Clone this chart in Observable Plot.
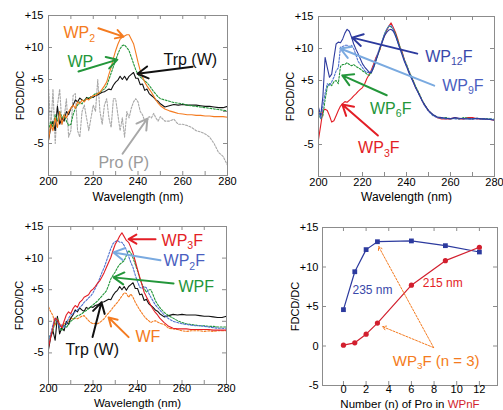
<!DOCTYPE html>
<html><head><meta charset="utf-8">
<script src="https://cdn.jsdelivr.net/npm/d3@7"></script>
<script src="https://cdn.jsdelivr.net/npm/@observablehq/plot@0.6"></script>
<style>
body{margin:0;background:#fff;}
#chart{position:relative;width:503px;height:410px;overflow:hidden;font-family:"Liberation Sans",Arial,sans-serif;}
#chart svg{position:absolute;overflow:visible;}
</style></head><body><div id="chart"></div>
<script>
// ---------- data ----------
const wavelength = [200,201,202,203,204,205,206,207,208,209,210,211,212,213,214,215,216,217,218,219,220,221,222,223,224,225,226,227,228,229,230,231,232,233,234,235,236,237,238,239,240,241,242,243,244,245,246,247,248,249,250,252,254,256,258,260,262,264,266,268,270,272,274,276,278,280];

// panel A
const trp = [-4.5,-2.5,-1.5,-3,0.8,-2,-1,-1.5,0,-0.5, 0.5,1,1.8,1.5,2.1,1.8,1.6,2.2,2,2.3, 2.2,2.5,2.6,2.8,3,3.1,3.3,3.5,3.4,4.1, 4.6,4.9,5.5,5,5.5,4.9,5.5,5.8,6.1,5.2, 5.2,4.2,4.3,3.3,3.5,2.8,2.5,2.2,1.8,1.6, 1.2, 0.7,0.9,1.1,1,1.1,1,1,1,0.9,0.8,0.8,0.7,0.6,0.6,0.8];
const wp2 = [-4.5,-2,-3,-1,-2.5,0,-2,-0.5,-1,0, 0.5,1,0.5,1.5,1.2,1.8,1.5,2,1.8,2.2, 2.5,2.5,2.8,3,3.5,4,4.6,5.8,6.9,8.3, 9.5,10.5,11.3,11.6,11.8,12,12,11.3,10.6,9.2, 7.7,6.4,5.4,4.6,4,3.5,3,2.4,1.8,1.3, 0.9, 0.4,0.1,-0.1,-0.3,-0.4,-0.5,-0.5,-0.6,-0.6,-0.7,-0.7,-0.8,-0.8,-0.8,-0.9];
const wp = [-3,-1.5,-2.5,-0.5,-1.5,0,-1,-0.5,-1.5,-2.2, -2,-0.5,0.5,1,1.5,1.2,1.8,2,2.2,2, 2.5,2.8,2.8,3,3.3,3.5,4,5,6,7, 8,9,9.8,10.3,10.4,10,9.5,8.5,7.5,6.5, 5.8,5.4,5.1,4.8,4.5,4.1,3.6,3.1,2.7,2.3, 2, 1.8,1.6,1.4,1.3,1.2,1,0.9,0.8,0.7,0.6,0.5,0.4,0.3,0.2,0.1];
const pro = [4,-3,3.5,-5,1,3.5,-2,-1,2,-4, -3,2.5,2.8,-3,-4,0,1,-1,-3,-1, 1,0,5,0,-2,1,2,-1,-2.5,2, 2,-0.5,-3,-1,-4,0,-1,0.5,1.5,2, 1.5,0,-0.5,-1.5,-1.5,-0.8,-1,-0.3,-1,-1.5, -0.8, -1.5,-1.5,-1.2,-2,-2,-2.2,-2.5,-3,-3.2,-3.5,-4,-5,-6.4,-7,-8.4];

// panel B
const wp3fB = [-4.2,-2,0.3,0.5,0.3,-0.5,-1.5,-1.3,-0.5,0.3, 1,1.4,1.7,1.6,1.9,2.2,2.6,2.9,3.3,3.6, 3.9,4.5,5.3,5.9,6.6,7.5,8.5,9.2,9.9,11.2, 12,12.8,13.5,14,13.3,12.5,11.5,10.2,9.5,8.3, 7.4,6.5,5.7,5,4,3.4,2.7,1.9,1.3,0.8, 0.3, -0.4,-0.8,-1,-1,-1,-0.8,-1,-1,-0.8,-0.8,-1,-1,-1.1,-1.1,-1.2];
const wp12f = [0.8,-0.5,2.5,8.6,7,5.5,6,8.5,10.7,11, 10.9,11.5,12.4,13,12.7,11.8,10.7,9.9,9.2,8.4, 7.6,7.1,6.7,6.3,6.2,7,8,9,10.2,11, 12,12.5,12.9,13,12.7,12,11,10,9,8, 7.2,6.3,5.5,4.8,4,3.3,2.6,1.9,1.3,0.8, 0.3, -0.3,-0.7,-0.8,-0.9,-1,-0.8,-0.9,-1,-1,-1,-0.9,-1,-1,-1.1,-1.2];
const wp9f = [0.5,-1,1,3,4.5,4.2,4.8,5.5,6.5,7, 10.2,10.3,10.5,10.5,10.3,10.5,10,9,8,7.5, 7,6.5,6.3,6.2,6.5,7.2,8.3,9.3,10.3,11.3, 12.3,13,13.5,13.6,13,12,11,10,9.2,8.2, 7.3,6.5,5.6,4.8,4,3.3,2.6,1.9,1.2,0.7, 0.2, -0.5,-0.8,-0.9,-1,-0.9,-1,-1,-0.9,-1,-1,-1,-1,-1.1,-1,-1.1];
const wp6f = [0,-1,-0.5,2,4,4.5,4.2,4.8,5,4.5, 7.2,7.5,7.5,7.8,7.5,7.3,7.5,7.2,7,6.8, 6.5,6.3,6,5.8,6.2,7,8,9,10,11.2, 12.2,13,13.5,13.4,13,12.3,11.3,10.3,9.3,8.3, 7.5,6.6,5.8,5,4.2,3.5,2.8,2,1.4,0.8, 0.3, -0.4,-0.7,-0.9,-0.8,-1,-0.9,-1,-0.8,-0.9,-1,-0.9,-1,-1,-1,-1.1];

// panel C
const wp3fC = [-4.1,-2.5,-1,0.5,0.2,-0.5,-1,0,1,1.5, 1.2,2,2.5,2.2,3,3.3,3.8,4,4.2,4.8, 5.1,5.5,6,6.4,7,7.7,8.5,9.3,10.1,11.2, 12.2,12.8,13.5,14,13.4,12.8,12.5,11.7,10.8,9.5, 8.2,7,5.8,4.6,3.9,3.2,2.5,1.9,1.4,1, 0.5, -0.2,-0.8,-1.1,-1.2,-1.2,-1.2,-1.3,-1.3,-1.3,-1.3,-1.3,-1.4,-1.4,-1.4,-1.4];
const wp2f = [-3,-2,-0.5,0.5,0,-1,-0.5,-1,-0.5,0.5, 1,1.2,1.5,1.8,2.2,2.5,3,3.3,3.7,4, 4.5,5.2,5.9,6.8,7.7,8.5,9.5,10.5,11.5,12.3, 12.6,12.8,12.5,12.5,12,11.3,10.3,9.3,8.5,7.3, 6.3,5.4,5.2,5.5,5.3,4.5,3.8,3.2,2.6,2.2, 1.8, 1,0.4,0,-0.2,-0.4,-0.5,-0.6,-0.7,-0.7,-0.8,-0.9,-1,-1.1,-1.1,-1.2];
const wpf = [-3,-2,-1.5,0,0.5,-1,-1.5,-0.5,-1,-0.5, 0,0.3,0.6,0.9,1,1.2,1.5,1.7,2,2.3, 2.6,2.9,3.2,3.6,4,4.4,4.8,5.7,6.7,7.3, 7.8,8.5,9,9.3,9.6,10.4,11.2,10.8,10,9, 8,6.8,5.9,5.2,4.6,5,5,4.2,3.3,2.7, 2.2, 1.4,0.9,0.5,0.1,-0.2,-0.4,-0.5,-0.6,-0.7,-0.7,-0.8,-0.8,-0.9,-0.9,-0.9];
const wf = [2.3,1.5,0.9,-0.7,0.6,-0.4,-1,-0.3,-0.5,0, 0.6,0.3,0.5,0.4,0.6,0.8,0.9,0.5,0.1,-0.2, -0.4,-0.3,-0.4,-0.2,0.1,0.4,0.9,1.3,1.7,2.2, 2.6,3,3.5,4,4.5,4.4,3.8,4.3,3.8,3, 2.4,1.8,1.3,0.8,0.4,0.1,-0.2,0,0.1,-0.1, -0.3, -0.5,-1.1,-1.2,-1.3,-1.5,-1.6,-1.5,-1.5,-1.5,-1.6,-1.5,-1.6,-1.5,-1.5,-1.5];

// panel D
const nPro = [0,1,2,3,6,9,12];
const cd235 = [4.6,9.4,12.2,13.2,13.3,12.7,11.9];
const cd215 = [0.1,0.4,1.5,2.9,7.7,10.8,12.5];

// ticks
const wlTickLabels = [200,220,240,260,280];
const wlTickMarks = [200,210,220,230,240,250,260,270,280];
const cdTicks = [-5,0,5,10,15];
const nTicks = [0,2,4,6,8,10,12];

// annotations (data units)
const arrowsA = [
  {x1:222.3,y1:13.0,x2:233.5,y2:11.7,c:"orange"},
  {x1:213.4,y1:6.25,x2:230.8,y2:8.1,c:"green"},
  {x1:264.4,y1:7.0,x2:239.8,y2:5.9,c:"black"},
  {x1:233.1,y1:-6.6,x2:244.2,y2:-1.1,c:"gray"}
];
const labelsA = [
  {x:206.7,y:12.3,t:"WP_{2}",c:"orange"},
  {x:208.5,y:7.8,t:"WP",c:"green"},
  {x:251.4,y:8.1,t:"Trp (W)",c:"black"},
  {x:222.3,y:-8.0,t:"Pro (P)",c:"grayText"}
];
const arrowsB = [
  {x1:244.9,y1:9.2,x2:215.3,y2:11.7,c:"navy"},
  {x1:252.6,y1:4.2,x2:209.9,y2:10.0,c:"sky"},
  {x1:231.0,y1:2.7,x2:210.8,y2:5.8,c:"green"},
  {x1:227,y1:-3.6,x2:210.8,y2:1.25,c:"red"}
];
const labelsB = [
  {x:248.5,y:8.75,t:"WP_{12}F",c:"navyText"},
  {x:256.2,y:4.2,t:"WP_{9}F",c:"blueText"},
  {x:223.4,y:0.6,t:"WP_{6}F",c:"green"},
  {x:218,y:-5.5,t:"WP_{3}F",c:"red"}
];
const arrowsC = [
  {x1:248.1,y1:13.0,x2:236.0,y2:13.0,c:"red"},
  {x1:250.3,y1:9.65,x2:229.2,y2:10.9,c:"sky"},
  {x1:256.2,y1:6.0,x2:229.2,y2:6.95,c:"green"},
  {x1:236,y1:-2.5,x2:227,y2:0.6,c:"orange"},
  {x1:219.8,y1:-2.5,x2:223.8,y2:3.0,c:"black"}
];
const labelsC = [
  {x:250.8,y:12.8,t:"WP_{3}F",c:"red"},
  {x:251.7,y:9.5,t:"WP_{2}F",c:"blueText"},
  {x:258.4,y:5.5,t:"WPF",c:"green"},
  {x:239.1,y:-2.4,t:"WF",c:"orange"},
  {x:207.6,y:-4.6,t:"Trp (W)",c:"black"}
];
const arrowsD = [
  {x1:7.96,y1:-0.2,x2:3.1,y2:12.6},
  {x1:7.96,y1:-0.2,x2:3.45,y2:2.45}
];
const labelsD = [
  {x:0.8,y:7.1,t:"235 nm",c:"navyText"},
  {x:7.0,y:8.0,t:"215 nm",c:"red"}
];
const labelsD2 = [{x:4.35,y:-1.9,t:"WP_{3}F (n = 3)",c:"orange"}];

// ---------- styles ----------
const palette = {orange:"#f47b20", green:"#23963a", black:"#111111", gray:"#a8a8a8", grayText:"#9a9a9a",
  red:"#e31e26", navy:"#2c3a9e", navyText:"#3a48aa", sky:"#7aaae0", blue:"#4f72cf", blueText:"#4a5ec0", dred:"#d21f2e"};
const font = '"Liberation Sans", Arial, Helvetica, sans-serif';
const frameColor = "#8c8c8c";
const fmt = d => d > 0 ? "+" + d : String(d);

function rows(values){ return wavelength.map((w,i)=>({w, v: values[i]})); }

function inwardTicks(xt, yt, fw, fh){
  return [
    Plot.tickX(xt, {x: d=>d, insetTop: fh-4, stroke: frameColor}),
    Plot.tickX(xt, {x: d=>d, insetBottom: fh-4, stroke: frameColor}),
    Plot.tickY(yt, {y: d=>d, insetRight: fw-4, stroke: frameColor}),
    Plot.tickY(yt, {y: d=>d, insetLeft: fw-4, stroke: frameColor})
  ];
}

function spectrum(cfg){
  const {width, height, mt, mb, ml, mr, series, arrows, labels, yLabelOffset, xLabelOffset, tickPad = 2, labelSize = 12} = cfg;
  const fh = height-mt-mb, fw = width-ml-mr;
  return Plot.plot({
    width, height, marginTop: mt, marginBottom: mb, marginLeft: ml, marginRight: mr,
    x: {domain: [200,280]}, y: {domain: [-10,15]}, color: {type: "identity"},
    style: {fontFamily: font, background: "transparent", color: "#000", overflow: "visible"},
    marks: [
      ...series.map(s => Plot.line(rows(s.values), {x:"w", y:"v", stroke: palette[s.c], strokeWidth: s.sw ?? 1.1, strokeDasharray: s.dash})),
      Plot.frame({stroke: frameColor}),
      ...inwardTicks(wlTickMarks, cdTicks, fw, fh),
      Plot.axisX({ticks: wlTickLabels, tickSize: 0, tickPadding: tickPad, label: null, fontSize: 11}),
      Plot.axisY({ticks: cdTicks, tickSize: 0, tickPadding: 5, tickFormat: fmt, label: null, fontSize: 11}),
      Plot.axisX({ticks: [], tickSize: 0, label: "Wavelength (nm)", labelAnchor: "center", labelArrow: "none", labelOffset: xLabelOffset, fontSize: labelSize}),
      Plot.axisY({ticks: [], tickSize: 0, label: "FDCD/DC", labelAnchor: "center", labelArrow: "none", labelOffset: yLabelOffset, fontSize: 11}),
      Plot.arrow(arrows, {x1:"x1", y1:"y1", x2:"x2", y2:"y2", stroke: d => palette[d.c], strokeWidth: 2, headLength: 9}),
      Plot.text(labels, {x:"x", y:"y", text:"t", fill: d => palette[d.c], textAnchor: "start", fontSize: 16})
    ]
  });
}

function place(svg, left, top){ svg.style.left = left + "px"; svg.style.top = top + "px"; return svg; }

function subscripts(svg){
  svg.querySelectorAll("text").forEach(t => {
    const s = t.textContent;
    if (s.includes("WPnF") && s.startsWith("Number")) {
      t.textContent = "";
      t.append(document.createTextNode("Number (n) of Pro in "));
      const sp = document.createElementNS("http://www.w3.org/2000/svg","tspan");
      sp.setAttribute("fill", palette.dred); sp.textContent = "WPnF"; t.append(sp);
      return;
    }
    const m = s.match(/^(.*?)_\{(.+?)\}(.*)$/);
    if (!m) return;
    t.textContent = "";
    const mk = (txt, attrs) => { const e = document.createElementNS("http://www.w3.org/2000/svg","tspan"); for (const k in attrs) e.setAttribute(k, attrs[k]); e.textContent = txt; return e; };
    t.append(mk(m[1], {}));
    t.append(mk(m[2], {"font-size": "0.66em", dy: "0.35em"}));
    if (m[3]) t.append(mk(m[3], {dy: "-0.23em"}));
  });
  return svg;
}

const root = document.getElementById("chart");

const A = spectrum({width:250, height:200, mt:15, mb:25, ml:48, mr:23, yLabelOffset:32, xLabelOffset:25,
  series:[
    {values: pro, c:"gray", dash:"2,1.5", sw:1.1},
    {values: trp, c:"black"},
    {values: wp, c:"green", dash:"2,1.5"},
    {values: wp2, c:"orange"}
  ], arrows: arrowsA, labels: labelsA});
root.append(place(subscripts(A), 0, 0));

const B = spectrum({width:253, height:200, mt:16, mb:24, ml:68, mr:9, yLabelOffset:32, xLabelOffset:24,
  series:[
    {values: wp3fB, c:"red"},
    {values: wp6f, c:"green", dash:"2,1.5"},
    {values: wp9f, c:"blue", dash:"2,1.5"},
    {values: wp12f, c:"navy"}
  ], arrows: arrowsB, labels: labelsB});
root.append(place(subscripts(B), 250, 0));

const C = spectrum({width:250, height:210, mt:26, mb:26, ml:48, mr:24, yLabelOffset:33, xLabelOffset:22, tickPad:0, labelSize:11.5,
  series:[
    {values: wf, c:"orange", dash:"2,1.5"},
    {values: trp, c:"black"},
    {values: wpf, c:"green", dash:"2,1.5"},
    {values: wp2f, c:"blue", dash:"2,1.5"},
    {values: wp3fC, c:"red"}
  ], arrows: arrowsC, labels: labelsC});
root.append(place(subscripts(C), 0, 200));

// panel D
{
  const width = 253, height = 210, mt = 27, mb = 25, ml = 72, mr = 6;
  const fh = height-mt-mb, fw = width-ml-mr;
  const d235 = nPro.map((n,i)=>({n, v: cd235[i]}));
  const d215 = nPro.map((n,i)=>({n, v: cd215[i]}));
  const D = Plot.plot({
    width, height, marginTop: mt, marginBottom: mb, marginLeft: ml, marginRight: mr,
    x: {domain: [-1.85, 13.6]}, y: {domain: [-5, 15]}, color: {type: "identity"},
    style: {fontFamily: font, background: "transparent", color: "#000", overflow: "visible"},
    marks: [
      Plot.line(d235, {x:"n", y:"v", stroke: palette.navy, strokeWidth: 1.2}),
      Plot.dot(d235, {x:"n", y:"v", symbol: "square", r: 2.7, fill: palette.navy}),
      Plot.line(d215, {x:"n", y:"v", stroke: palette.dred, strokeWidth: 1.2}),
      Plot.dot(d215, {x:"n", y:"v", r: 2.6, fill: palette.dred}),
      Plot.frame({stroke: frameColor}),
      ...inwardTicks(nTicks, cdTicks, fw, fh),
      Plot.axisX({ticks: nTicks, tickSize: 0, tickPadding: 0, label: null, fontSize: 11}),
      Plot.axisY({ticks: cdTicks, tickSize: 0, tickPadding: 4, tickFormat: fmt, label: null, fontSize: 11}),
      Plot.axisX({ticks: [], tickSize: 0, label: "Number (n) of Pro in WPnF", labelAnchor: "center", labelArrow: "none", labelOffset: 22, fontSize: 11.5}),
      Plot.axisY({ticks: [], tickSize: 0, label: "FDCD/DC", labelAnchor: "center", labelArrow: "none", labelOffset: 31, fontSize: 11}),
      Plot.arrow(arrowsD, {x1:"x1", y1:"y1", x2:"x2", y2:"y2", stroke: palette.orange, strokeWidth: 1, strokeDasharray: "2,1.5", headLength: 6}),
      Plot.text(labelsD, {x:"x", y:"y", text:"t", fill: d => palette[d.c], textAnchor: "start", fontSize: 12}),
      Plot.text(labelsD2, {x:"x", y:"y", text:"t", fill: d => palette[d.c], textAnchor: "start", fontSize: 15})
    ]
  });
  root.append(place(subscripts(D), 250, 200));
}
</script></body></html>
